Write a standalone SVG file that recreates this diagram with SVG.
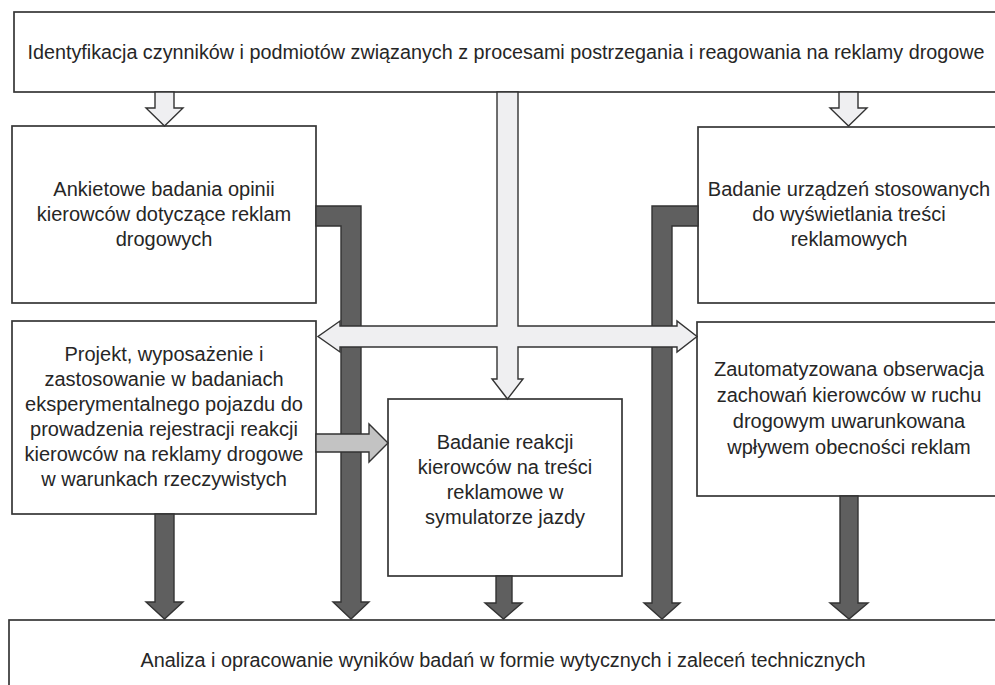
<svg xmlns="http://www.w3.org/2000/svg" width="995" height="685" viewBox="0 0 995 685">
  <style>
    .box { fill: #ffffff; stroke: #363636; stroke-width: 1.7; }
    .dark { fill: #5f5f5f; stroke: #333333; stroke-width: 1.4; stroke-linejoin: miter; }
    .light { fill: #efeff1; stroke: #333333; stroke-width: 1.4; }
    .mid { fill: #c3c3c3; stroke: #333333; stroke-width: 1.4; }
    text { font-family: "Liberation Sans", Arial, sans-serif; font-size: 20px; fill: #262626; text-anchor: middle; }
  </style>
  <rect width="995" height="685" fill="#ffffff"/>

  <!-- nodes -->
  <g id="top">
    <rect class="box" x="14" y="12" width="1000" height="80"/>
    <text x="506" y="59" textLength="957" lengthAdjust="spacingAndGlyphs">Identyfikacja czynników i podmiotów związanych z procesami postrzegania i reagowania na reklamy drogowe</text>
  </g>
  <g id="survey">
    <rect class="box" x="12" y="126" width="304" height="177"/>
    <text x="164" y="196">Ankietowe badania opinii</text>
    <text x="164" y="221">kierowców dotyczące reklam</text>
    <text x="164" y="246">drogowych</text>
  </g>
  <g id="devices">
    <rect class="box" x="698" y="127" width="320" height="176"/>
    <text x="849" y="196">Badanie urządzeń stosowanych</text>
    <text x="849" y="221">do wyświetlania treści</text>
    <text x="849" y="246">reklamowych</text>
  </g>
  <g id="vehicle">
    <rect class="box" x="12" y="321" width="304" height="193"/>
    <text x="164" y="361">Projekt, wyposażenie i</text>
    <text x="164" y="386">zastosowanie w badaniach</text>
    <text x="164" y="411">eksperymentalnego pojazdu do</text>
    <text x="164" y="436">prowadzenia rejestracji reakcji</text>
    <text x="164" y="461">kierowców na reklamy drogowe</text>
    <text x="164" y="486">w warunkach rzeczywistych</text>
  </g>
  <g id="simulator">
    <rect class="box" x="388" y="399" width="234" height="177"/>
    <text x="505" y="449">Badanie reakcji</text>
    <text x="505" y="474">kierowców na treści</text>
    <text x="505" y="499">reklamowe w</text>
    <text x="505" y="524">symulatorze jazdy</text>
  </g>
  <g id="observation">
    <rect class="box" x="697" y="322" width="320" height="174"/>
    <text x="849" y="376">Zautomatyzowana obserwacja</text>
    <text x="849" y="402">zachowań kierowców w ruchu</text>
    <text x="849" y="428">drogowym uwarunkowana</text>
    <text x="849" y="454">wpływem obecności reklam</text>
  </g>
  <g id="analysis">
    <rect class="box" x="9" y="620" width="1000" height="80"/>
    <text x="503" y="667" textLength="725" lengthAdjust="spacingAndGlyphs">Analiza i opracowanie wyników badań w formie wytycznych i zaleceń technicznych</text>
  </g>

  <!-- connectors -->
  <g id="connectors">
    <!-- dark elbows from the upper side boxes down to the analysis box -->
    <polygon class="dark" points="316,206 361,206 361,602 369,602 351,619 333,602 341,602 341,226 316,226"/>
    <polygon class="dark" points="698,206 652,206 652,603 644,603 662,619 680,603 672,603 672,226 698,226"/>
    <!-- dark straight arrows -->
    <polygon class="dark" points="155,514 174,514 174,602 183,602 164.5,619 146,602 155,602"/>
    <polygon class="dark" points="496,576 512,576 512,603 522,603 503.5,619 485,603 496,603"/>
    <polygon class="dark" points="840,496 858,496 858,603 868,603 849,619 830,603 840,603"/>
    <!-- light arrows from the top box -->
    <polygon class="light" points="155,92 174,92 174,108 183,108 164.5,126 146,108 155,108"/>
    <polygon class="light" points="839,92 858,92 858,108 867,108 848.5,126 830,108 839,108"/>
    <polygon class="light" points="497,92 518,92 518,326 677,326 677,321 697,336.5 677,352 677,347 518,347 518,379 523,379 507.5,399 492,379 497,379 497,347 340,347 340,352 318,336.5 340,321 340,326 497,326"/>
    <!-- vehicle to simulator -->
    <polygon class="mid" points="316,434 369,434 369,424 388,443 369,462 369,452 316,452"/>
  </g>
</svg>
